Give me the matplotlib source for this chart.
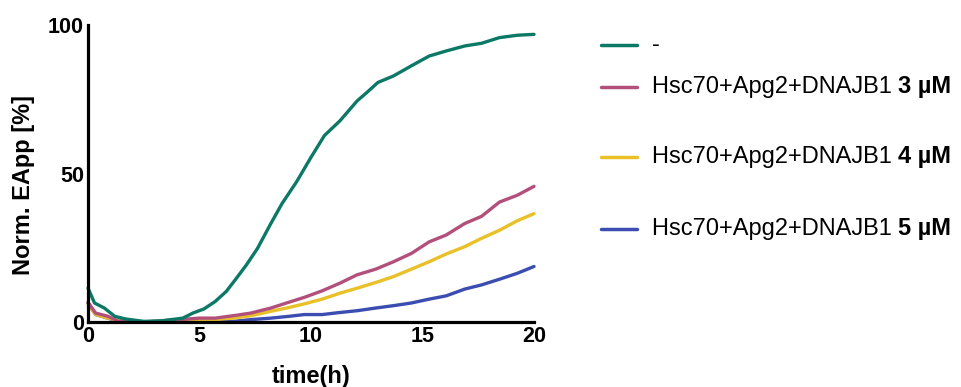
import matplotlib
matplotlib.use("Agg")
import matplotlib.pyplot as plt
from matplotlib.lines import Line2D

plt.rcParams['font.family'] = ['Liberation Sans', 'DejaVu Sans']

# time (h) and normalised EApp (%)
t_ctrl = [0, 0.29, 0.73, 1.2, 1.7, 2.5, 3.3, 4.25, 4.7, 5.2, 5.7, 6.2, 6.6, 7.1, 7.6,
          8.2, 8.7, 9.35, 10.0, 10.6, 11.3, 12.07, 12.5, 13.0, 13.7, 14.5, 15.3,
          16.06, 16.9, 17.65, 18.45, 19.25, 20]
y_ctrl = [11.4, 6.4, 4.7, 1.9, 1.0, 0.2, 0.4, 1.3, 3.0, 4.4, 6.9, 10.3, 14.2, 19.2, 24.8,
          33.2, 39.9, 47.2, 55.5, 62.8, 67.8, 74.5, 77.3, 80.7, 82.9, 86.3, 89.6,
          91.3, 93.0, 93.9, 95.8, 96.6, 96.9]

t_3 = [0, 0.34, 0.9, 1.37, 2.5, 4.1, 5.0, 5.7, 6.5, 7.3, 8.2, 8.9, 9.7, 10.5, 11.3,
       12.07, 12.9, 13.7, 14.5, 15.3, 16.06, 16.9, 17.65, 18.45, 19.25, 20]
y_3 = [6.6, 3.0, 1.9, 0.2, 0.0, 0.8, 1.3, 1.3, 2.1, 3.0, 4.7, 6.4, 8.3, 10.5, 13.1,
       15.9, 17.8, 20.3, 23.1, 27.0, 29.3, 33.2, 35.6, 40.4, 42.7, 45.7]

t_4 = [0, 0.34, 0.9, 1.5, 4.1, 5.0, 6.5, 7.3, 8.2, 8.9, 9.7, 10.5, 11.3, 12.07,
       12.9, 13.7, 14.5, 15.3, 16.06, 16.9, 17.65, 18.45, 19.25, 20]
y_4 = [6.1, 2.5, 1.3, 0.2, 0.0, 0.4, 1.3, 2.1, 3.6, 4.7, 6.1, 7.7, 9.7, 11.4,
       13.3, 15.3, 17.8, 20.3, 22.9, 25.4, 28.2, 30.9, 34.1, 36.5]

t_5 = [0, 0.34, 1.2, 2.5, 4.0, 5.7, 6.5, 7.3, 8.2, 9.0, 9.7, 10.5, 11.3, 12.07,
       12.9, 13.7, 14.5, 15.3, 16.06, 16.9, 17.65, 18.45, 19.25, 20]
y_5 = [6.4, 2.5, 0.6, 0.0, 0.0, 0.0, 0.2, 0.8, 1.3, 1.9, 2.5, 2.5, 3.2, 3.8,
       4.7, 5.5, 6.4, 7.7, 8.8, 11.1, 12.5, 14.4, 16.4, 18.7]

labels = ['-', 'Hsc70+Apg2+DNAJB1 ', 'Hsc70+Apg2+DNAJB1 ', 'Hsc70+Apg2+DNAJB1 ']
bold_parts = ['', '3 µM', '4 µM', '5 µM']
colors = ['#0c7866', '#b34f7b', '#e9c027', '#3b4db1']

fig = plt.figure(figsize=(9.61, 3.87), dpi=100)
ax = fig.add_axes([0.0916, 0.168, 0.4641, 0.767])

series = [(t_ctrl, y_ctrl), (t_3, y_3), (t_4, y_4), (t_5, y_5)]
# draw in reverse so green sits on top
for (t, y), c in reversed(list(zip(series, colors))):
    ax.plot(t, y, color=c, lw=2.4, clip_on=False, solid_capstyle='round')

ax.set_xlim(0, 20)
ax.set_ylim(0, 100)
ax.set_xticks([0, 5, 10, 15, 20])
ax.set_yticks([0, 50, 100])
ax.spines['top'].set_visible(False)
ax.spines['right'].set_visible(False)
for s in ['left', 'bottom']:
    ax.spines[s].set_linewidth(2.3)
ax.tick_params(axis='x', length=0, pad=3, labelsize=15.5)
ax.tick_params(axis='y', length=0, pad=3, labelsize=15.5)
for lab in ax.get_xticklabels() + ax.get_yticklabels():
    lab.set_fontweight('bold')
ax.set_xlabel('time(h)', fontsize=17, fontweight='bold')
ax.xaxis.set_label_coords(0.5, -0.145)
ax.set_ylabel('Norm. EApp [%]', fontsize=17, fontweight='bold')
ax.yaxis.set_label_coords(-0.118, 0.46)

# hand-made legend
leg_y = [45, 87, 157, 229]
fig.canvas.draw()
renderer = fig.canvas.get_renderer()
for yy, lab, b, c in zip(leg_y, labels, bold_parts, colors):
    yf = 1 - yy / 387
    fig.add_artist(Line2D([601 / 961, 637 / 961], [yf, yf], color=c, lw=2.5,
                          solid_capstyle='round'))
    txt = fig.text(652 / 961, yf, lab, fontsize=17, va='center', ha='left')
    if b:
        bb = txt.get_window_extent(renderer)
        fig.text(bb.x1 / fig.bbox.width, yf, b, fontsize=17, va='center',
                 ha='left', fontweight='bold')

fig.savefig('out.png', dpi=100)
